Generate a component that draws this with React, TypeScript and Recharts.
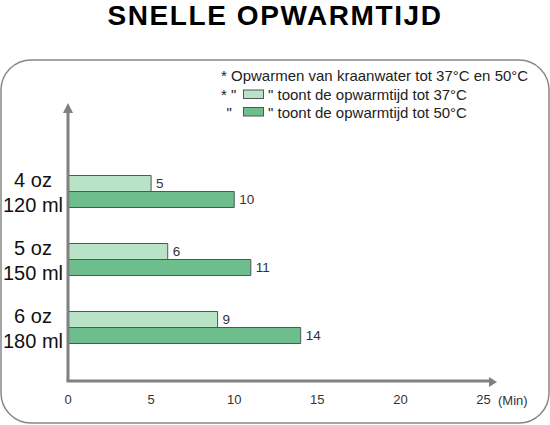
import React from 'react';
import { BarChart, Bar, XAxis, YAxis, LabelList } from 'recharts';

// Warm-up times (minutes) per bottle size.
const OZ_LABELS = ['4 oz', '5 oz', '6 oz'];
const ML_LABELS = ['120 ml', '150 ml', '180 ml'];
const WARM_37 = [5, 6, 9];
const WARM_50 = [10, 11, 14];
const X_TICKS = [0, 5, 10, 15, 20, 25];

const LIGHT = '#b9e3c6';
const DARK = '#6dbe8c';
const BAR_STROKE = '#555';
const AXIS = '#808080';
const FONT = '"Liberation Sans", Arial, Helvetica, sans-serif';

const W = 550;
const H = 425;

const data = OZ_LABELS.map((oz, i) => ({
  key: oz,
  ml: ML_LABELS[i],
  t37: WARM_37[i],
  t50: WARM_50[i],
}));

const SizeTick = (props: any) => {
  const { x, y, payload, index } = props;
  return (
    <g>
      <text x={x - 35} y={y - 4.5} textAnchor="middle" fontSize={20} fill="#111" fontFamily={FONT}>
        {payload.value}
      </text>
      <text x={x - 35} y={y + 20} textAnchor="middle" fontSize={20} fill="#111" fontFamily={FONT}>
        {ML_LABELS[index]}
      </text>
    </g>
  );
};

const App: React.FC = () => {
  return (
    <div style={{ position: 'absolute', left: 0, top: 0, width: W, height: H, background: '#fff', fontFamily: FONT }}>
      <BarChart
        width={W}
        height={H}
        data={data}
        layout="vertical"
        margin={{ top: 113, right: 61, bottom: 14, left: 8 }}
        barGap={0}
        barSize={16}
      >
        <XAxis
          type="number"
          domain={[0, 25.33]}
          ticks={X_TICKS}
          allowDataOverflow
          height={30}
          tickLine={false}
          tickSize={12}
          tickMargin={2}
          axisLine={{ stroke: AXIS, strokeWidth: 3, strokeLinecap: 'square' }}
          tick={{ fill: '#333', fontSize: 13, fontFamily: FONT }}
        />
        <YAxis
          type="category"
          dataKey="key"
          width={60}
          padding={{ top: 44.5, bottom: 19.5 }}
          tickLine={false}
          tickSize={0}
          tickMargin={0}
          axisLine={{ stroke: AXIS, strokeWidth: 3 }}
          tick={<SizeTick />}
          interval={0}
        />
        <Bar dataKey="t37" fill={LIGHT} stroke={BAR_STROKE} strokeWidth={1} isAnimationActive={false}>
          <LabelList dataKey="t37" position="right" offset={5} fill="#333" fontSize={13.5} fontFamily={FONT} />
        </Bar>
        <Bar dataKey="t50" fill={DARK} stroke={BAR_STROKE} strokeWidth={1} isAnimationActive={false}>
          <LabelList dataKey="t50" position="right" offset={5} fill="#333" fontSize={13.5} fontFamily={FONT} />
        </Bar>
      </BarChart>

      {/* title, panel frame, notes and axis arrows */}
      <svg width={W} height={H} style={{ position: 'absolute', left: 0, top: 0, pointerEvents: 'none' }}>
        <text x={275} y={25} textAnchor="middle" fontSize={28} fontWeight="bold" letterSpacing={1.6} fill="#000" fontFamily={FONT}>
          SNELLE OPWARMTIJD
        </text>
        <rect x={1} y={60} width={548} height={363} rx={30} ry={30} fill="none" stroke="#888" strokeWidth={1.5} />

        <g fontSize={15} fill="#222" fontFamily={FONT}>
          <text x={221} y={80.5}>* Opwarmen van kraanwater tot 37°C en 50°C</text>
          <text x={221} y={99.5}>* "</text>
          <rect x={243.5} y={90} width={20} height={8.5} fill={LIGHT} stroke={BAR_STROKE} strokeWidth={1} />
          <text x={268} y={99.5}>" toont de opwarmtijd tot 37°C</text>
          <text x={226.5} y={117.5}>"</text>
          <rect x={243.5} y={107.5} width={20} height={8.5} fill={DARK} stroke={BAR_STROKE} strokeWidth={1} />
          <text x={268} y={117.5}>" toont de opwarmtijd tot 50°C</text>
        </g>

        <polygon points="63,113 73,113 68,103" fill={AXIS} />
        <polygon points="489,377 489,387 497,382" fill={AXIS} />
        <text x={498} y={405} fontSize={13} fill="#333" fontFamily={FONT}>(Min)</text>
      </svg>
    </div>
  );
};

export default App;
